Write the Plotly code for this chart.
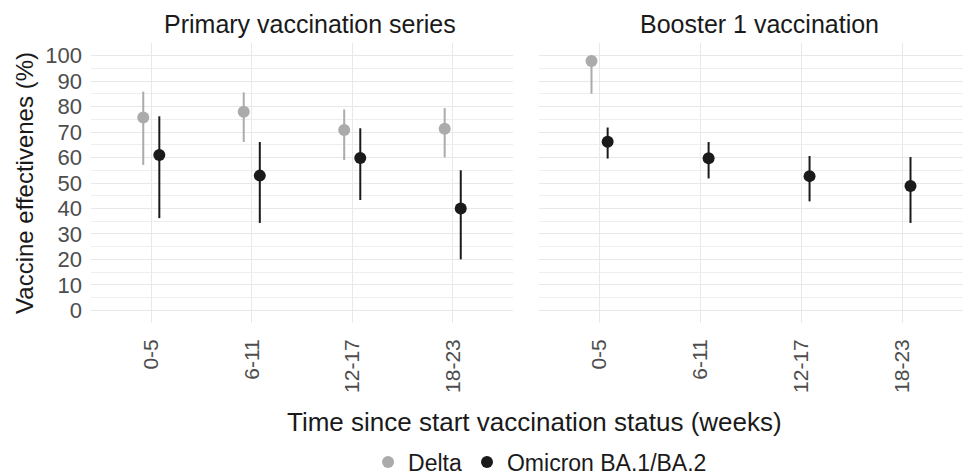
import plotly.graph_objects as go
from plotly.subplots import make_subplots

categories = ["0-5", "6-11", "12-17", "18-23"]
panels = ["Primary vaccination series", "Booster 1 vaccination"]

# Primary vaccination series
primary_delta = [75.7, 78.0, 70.8, 71.3]
primary_delta_lo = [57.1, 66.1, 59.0, 60.1]
primary_delta_hi = [85.9, 85.6, 78.9, 79.4]
primary_omi = [61.0, 52.9, 59.8, 40.0]
primary_omi_lo = [36.2, 34.3, 43.3, 20.0]
primary_omi_hi = [76.2, 66.1, 71.5, 55.0]

# Booster 1 vaccination (Delta only first interval)
booster_delta = [97.9, None, None, None]
booster_delta_lo = [85.1, None, None, None]
booster_delta_hi = [99.3, None, None, None]
booster_omi = [66.2, 59.7, 52.7, 48.8]
booster_omi_lo = [59.6, 51.8, 42.8, 34.3]
booster_omi_hi = [71.8, 66.1, 60.6, 60.2]

DELTA_COL = "#ababab"
OMI_COL = "#1a1a1a"
DODGE = 0.08

fig = make_subplots(rows=1, cols=2, shared_yaxes=True, horizontal_spacing=0.03)


def add_series(col, vals, lo, hi, name, color, offset, showlegend):
    xs, ys, up, dn = [], [], [], []
    for i, v in enumerate(vals):
        if v is None:
            continue
        xs.append(i + 1 + offset)
        ys.append(v)
        up.append(hi[i] - v)
        dn.append(v - lo[i])
    fig.add_trace(
        go.Scatter(
            x=xs, y=ys, mode="markers", name=name, legendgroup=name,
            showlegend=showlegend,
            marker=dict(color=color, size=12),
            error_y=dict(type="data", array=up, arrayminus=dn, color=color,
                         thickness=2, width=0, symmetric=False),
        ),
        row=1, col=col,
    )


add_series(1, primary_delta, primary_delta_lo, primary_delta_hi, "Delta", DELTA_COL, -DODGE, True)
add_series(1, primary_omi, primary_omi_lo, primary_omi_hi, "Omicron BA.1/BA.2", OMI_COL, DODGE, True)
add_series(2, booster_delta, booster_delta_lo, booster_delta_hi, "Delta", DELTA_COL, -DODGE, False)
add_series(2, booster_omi, booster_omi_lo, booster_omi_hi, "Omicron BA.1/BA.2", OMI_COL, DODGE, False)

W, H = 965, 475
ml, mr, mt, mb = 91, 2, 43, 152
pw = W - ml - mr
d1 = [0, 422 / pw]
d2 = [448 / pw, 1]

xcommon = dict(
    range=[0.4, 4.6], tickvals=[1, 2, 3, 4], ticktext=categories, tickangle=-90,
    showgrid=True, gridcolor="#e8e8e8", gridwidth=1.3, zeroline=False,
    showline=False, ticks="", tickfont=dict(size=21, color="#4d4d4d"),
    automargin=False, ticklabelstandoff=11,
)
fig.update_xaxes(**xcommon)
fig.update_layout(xaxis=dict(domain=d1), xaxis2=dict(domain=d2))

fig.update_yaxes(
    range=[-5, 105], tickvals=list(range(0, 101, 10)), showgrid=True,
    gridcolor="#e8e8e8", gridwidth=1.3, zeroline=False, showline=False, ticks="",
    minor=dict(dtick=5, showgrid=True, gridcolor="#eeeeee", gridwidth=0.9),
    tickfont=dict(size=22, color="#4d4d4d"), automargin=False, ticklabelstandoff=8,
)
fig.update_yaxes(title=dict(text="Vaccine effectivenes (%)", font=dict(size=24, color="#1a1a1a"), standoff=4), row=1, col=1)

for i, t in enumerate(panels):
    dom = d1 if i == 0 else d2
    fig.add_annotation(
        text=t, xref="paper", yref="paper", x=(dom[0] + dom[1]) / 2, y=1,
        xanchor="center", xshift=8, yshift=3, yanchor="bottom", showarrow=False,
        font=dict(size=25, color="#1a1a1a"),
    )

fig.add_annotation(
    text="Time since start vaccination status (weeks)", xref="paper", yref="paper",
    x=0.509, y=0, xanchor="center", yshift=-99, yanchor="middle", showarrow=False,
    font=dict(size=26, color="#1a1a1a"),
)

fig.update_layout(
    width=W, height=H,
    margin=dict(l=ml, r=mr, t=mt, b=mb, autoexpand=False),
    paper_bgcolor="white", plot_bgcolor="white",
    font=dict(family="Liberation Sans, Arial, sans-serif"),
    legend=dict(orientation="h", x=0.515, xanchor="center", yref="container",
                y=13 / 475, yanchor="middle",
                font=dict(size=23, color="#1a1a1a"), itemwidth=30),
)

fig.write_html("out.html", config={"displayModeBar": False},
               post_script="document.body.style.margin='0px';")
